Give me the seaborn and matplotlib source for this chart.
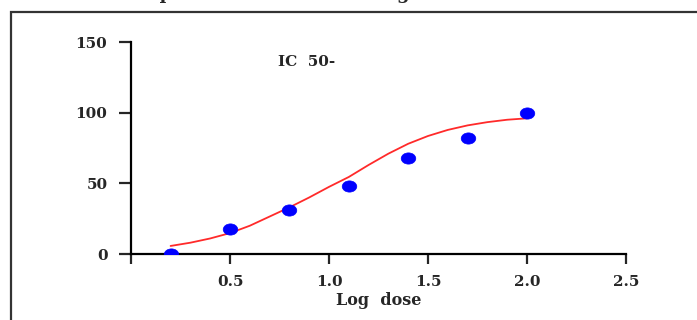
import numpy as np
import pandas as pd
import matplotlib
matplotlib.use("Agg")
import matplotlib.pyplot as plt
import seaborn as sns
from matplotlib.path import Path
from matplotlib.patches import Rectangle

# observed points
log_dose = [0.2, 0.5, 0.8, 1.1, 1.4, 1.7, 2.0]
response = [0, 17.7, 31, 48, 68, 82, 100]

# fitted curve
curve_x = [0.2, 0.3, 0.4, 0.5, 0.6, 0.7, 0.8, 0.9, 1.0, 1.1,
           1.2, 1.3, 1.4, 1.5, 1.6, 1.7, 1.8, 1.9, 2.0]
curve_y = [5.7, 8.0, 11.0, 14.8, 20.0, 26.5, 33.0, 40.0, 47.5, 54.5,
           63.0, 71.0, 78.0, 83.5, 87.8, 91.0, 93.3, 95.0, 96.0]

x_ticks = [0, 0.5, 1.0, 1.5, 2.0, 2.5]
x_tick_labels = ["", "0.5", "1.0", "1.5", "2.0", "2.5"]
y_ticks = [0, 50, 100, 150]

sns.set_style("ticks")
plt.rcParams["font.family"] = ["DejaVu Serif", "Liberation Serif"]
plt.rcParams["font.weight"] = "bold"

pts = pd.DataFrame({"x": log_dose, "y": response})
fit = pd.DataFrame({"x": curve_x, "y": curve_y})

fig = plt.figure(figsize=(6.97, 3.2), dpi=100)
ax = fig.add_axes([131 / 697, 66 / 320, 495 / 697, 212 / 320])

# outer frame of the cropped page
fig.patches.append(Rectangle((11 / 697, -0.1), 1.2, 1.1 - 12 / 320,
                             transform=fig.transFigure, fill=False,
                             edgecolor="#333333", linewidth=1.6))
# heading, cut off by the top edge of the crop
fig.text(73 / 697, 1 + 1 / 320, "Dose response curve for the drug",
         fontsize=13, fontweight="bold", ha="left", va="baseline")

sns.lineplot(data=fit, x="x", y="y", ax=ax, color="#ff2a2a", linewidth=1.3)

ell = Path.unit_circle()
ell = Path(ell.vertices * np.array([1.3, 1.0]), ell.codes)
sns.scatterplot(data=pts, x="x", y="y", ax=ax, color="#0000ff",
                marker=ell, s=110, edgecolor="#0000ff", linewidth=0.5, zorder=3)

ax.set_xlim(0, 2.5)
ax.set_ylim(0, 150)
ax.set_xticks(x_ticks)
ax.set_xticklabels(x_tick_labels)
ax.set_yticks(y_ticks)
for s in ["top", "right"]:
    ax.spines[s].set_visible(False)
for s in ["left", "bottom"]:
    ax.spines[s].set_linewidth(1.6)
    ax.spines[s].set_color("black")
ax.tick_params(axis="y", length=9, width=1.6, pad=8, labelsize=11)
ax.tick_params(axis="x", length=7, width=1.6, pad=8, labelsize=11)
for lab in ax.get_xticklabels() + ax.get_yticklabels():
    lab.set_fontweight("bold")
ax.set_xlabel("Log  dose", fontsize=11.5, fontweight="bold", labelpad=2)
ax.set_ylabel("")
ax.text(0.74, 136, "IC  50-", fontsize=11, fontweight="bold", ha="left", va="center")

fig.savefig("out.png", dpi=100)
